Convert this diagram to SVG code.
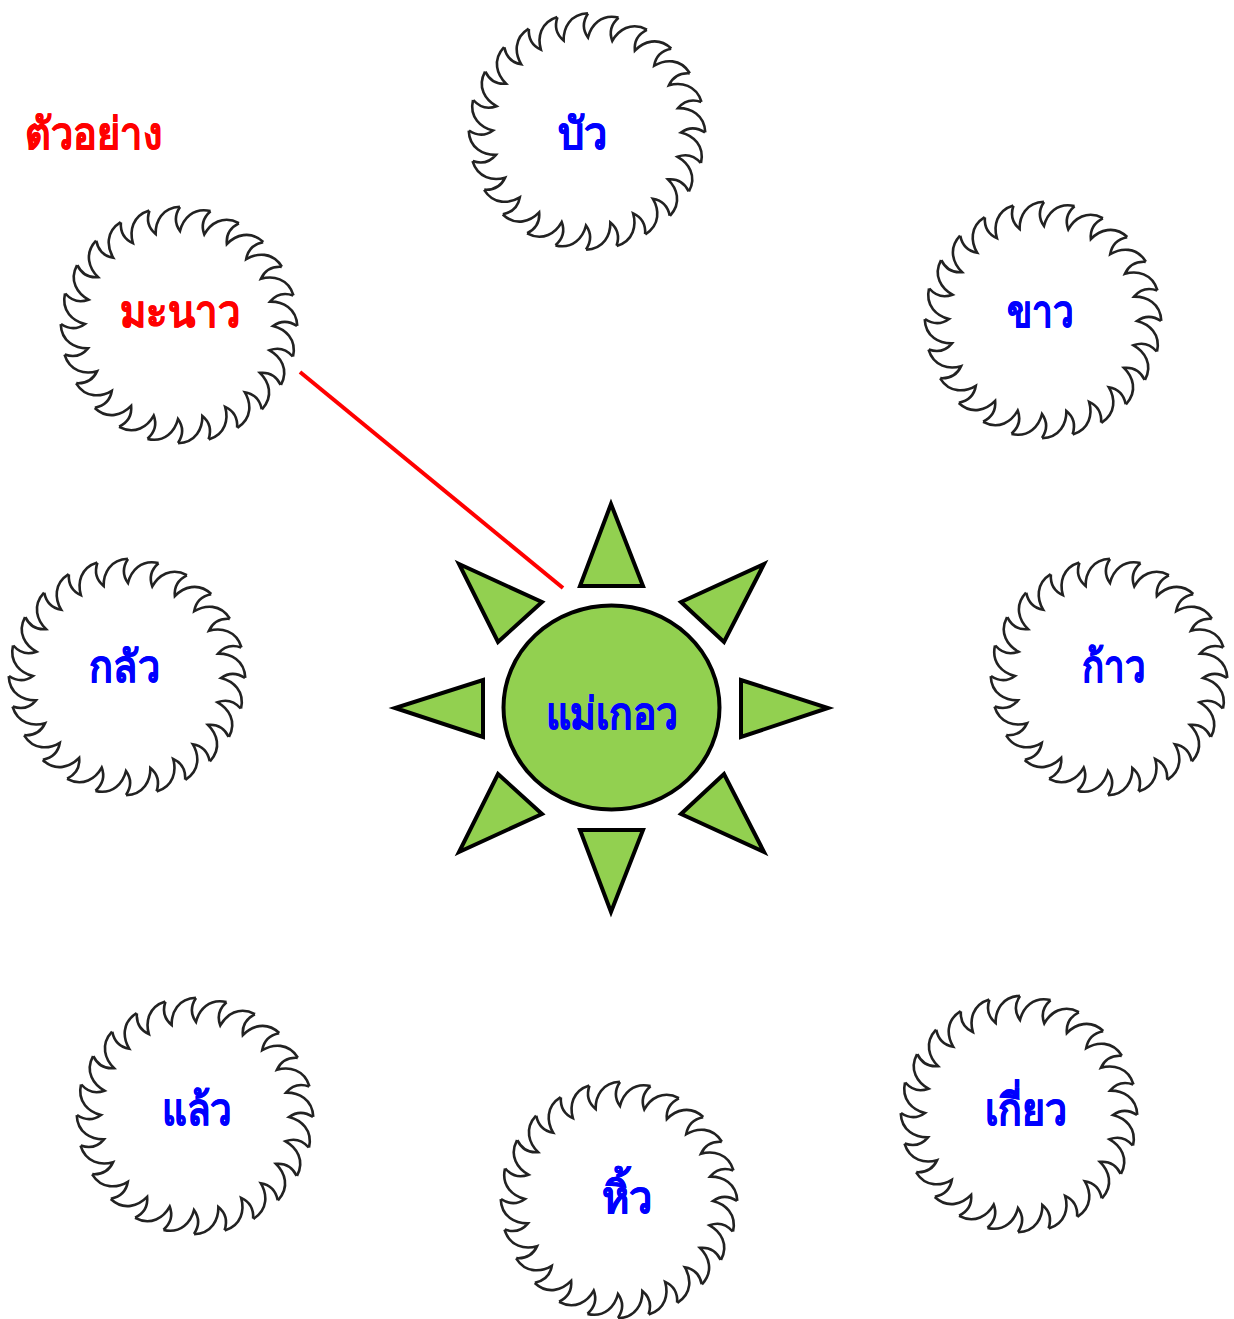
<svg xmlns="http://www.w3.org/2000/svg" width="1234" height="1319" viewBox="0 0 1234 1319">
<style>
.t{font-family:"Liberation Serif","Noto Sans","DejaVu Sans",serif;font-weight:bold;font-size:44px;text-anchor:middle;fill:#00f;stroke:#00f;stroke-width:.4}
.r{fill:#f00;stroke:#f00}
.s{fill:#92d050;stroke:#000;stroke-width:4}
.saw{fill:none;stroke:#222;stroke-width:2.6}
</style>
<defs>
<path id="tooth" d="M1,-118C-5,-109 -4,-101 1,-94C4,-106 14,-118 31.500,-114"/>
<g id="saw" class="saw">
<use href="#tooth"/><use href="#tooth" transform="rotate(15)"/><use href="#tooth" transform="rotate(30)"/><use href="#tooth" transform="rotate(45)"/><use href="#tooth" transform="rotate(60)"/><use href="#tooth" transform="rotate(75)"/><use href="#tooth" transform="rotate(90)"/><use href="#tooth" transform="rotate(105)"/><use href="#tooth" transform="rotate(120)"/><use href="#tooth" transform="rotate(135)"/><use href="#tooth" transform="rotate(150)"/><use href="#tooth" transform="rotate(165)"/><use href="#tooth" transform="rotate(180)"/><use href="#tooth" transform="rotate(195)"/><use href="#tooth" transform="rotate(210)"/><use href="#tooth" transform="rotate(225)"/><use href="#tooth" transform="rotate(240)"/><use href="#tooth" transform="rotate(255)"/><use href="#tooth" transform="rotate(270)"/><use href="#tooth" transform="rotate(285)"/><use href="#tooth" transform="rotate(300)"/><use href="#tooth" transform="rotate(315)"/><use href="#tooth" transform="rotate(330)"/><use href="#tooth" transform="rotate(345)"/>
</g>
</defs>
<rect width="1234" height="1319" fill="#fff"/>
<text id="title" class="t r" x="93" y="149" textLength="137" lengthAdjust="spacingAndGlyphs">ตัวอย่าง</text>
<g id="connectors"><line x1="300" y1="372" x2="563" y2="588" stroke="#f00" stroke-width="4"/></g>
<g id="sun">
<ellipse class="s" cx="611.5" cy="707.5" rx="108" ry="102"/>
<polygon class="s" points="611,504 580,586 643,586"/>
<polygon class="s" points="741,680 741,737 828,708"/>
<polygon class="s" points="483,680 483,737 395,708"/>
<polygon class="s" points="580,830 643,830 611,912"/>
<polygon class="s" points="764,564 681,602 724,642"/>
<polygon class="s" points="459,564 542,602 498,642"/>
<polygon class="s" points="459,852 542,814 498,774"/>
<polygon class="s" points="764,852 681,814 724,774"/>
<text class="t" x="612" y="729" textLength="133" lengthAdjust="spacingAndGlyphs">แม่เกอว</text>
</g>
<g id="n-bua"><use href="#saw" x="587" y="131.5"/><text class="t" x="583" y="149" textLength="50" lengthAdjust="spacingAndGlyphs">บัว</text></g>
<g id="n-manao"><use href="#saw" x="179" y="325"/><text class="t r" x="180" y="327" textLength="121" lengthAdjust="spacingAndGlyphs">มะนาว</text></g>
<g id="n-khao"><use href="#saw" x="1043" y="320"/><text class="t" x="1040" y="327" textLength="67" lengthAdjust="spacingAndGlyphs">ขาว</text></g>
<g id="n-klua"><use href="#saw" x="127" y="677"/><text class="t" x="124.500" y="682" textLength="71" lengthAdjust="spacingAndGlyphs">กลัว</text></g>
<g id="n-kao"><use href="#saw" x="1109" y="677"/><text class="t" x="1114" y="682" textLength="64" lengthAdjust="spacingAndGlyphs">ก้าว</text></g>
<g id="n-laeo"><use href="#saw" x="195" y="1116"/><text class="t" x="197" y="1125" textLength="70" lengthAdjust="spacingAndGlyphs">แล้ว</text></g>
<g id="n-hio"><use href="#saw" x="619" y="1200"/><text class="t" x="627.500" y="1213" textLength="51" lengthAdjust="spacingAndGlyphs">หิ้ว</text></g>
<g id="n-kiao"><use href="#saw" x="1019" y="1114"/><text class="t" x="1026" y="1125" textLength="83" lengthAdjust="spacingAndGlyphs">เกี่ยว</text></g>
</svg>
